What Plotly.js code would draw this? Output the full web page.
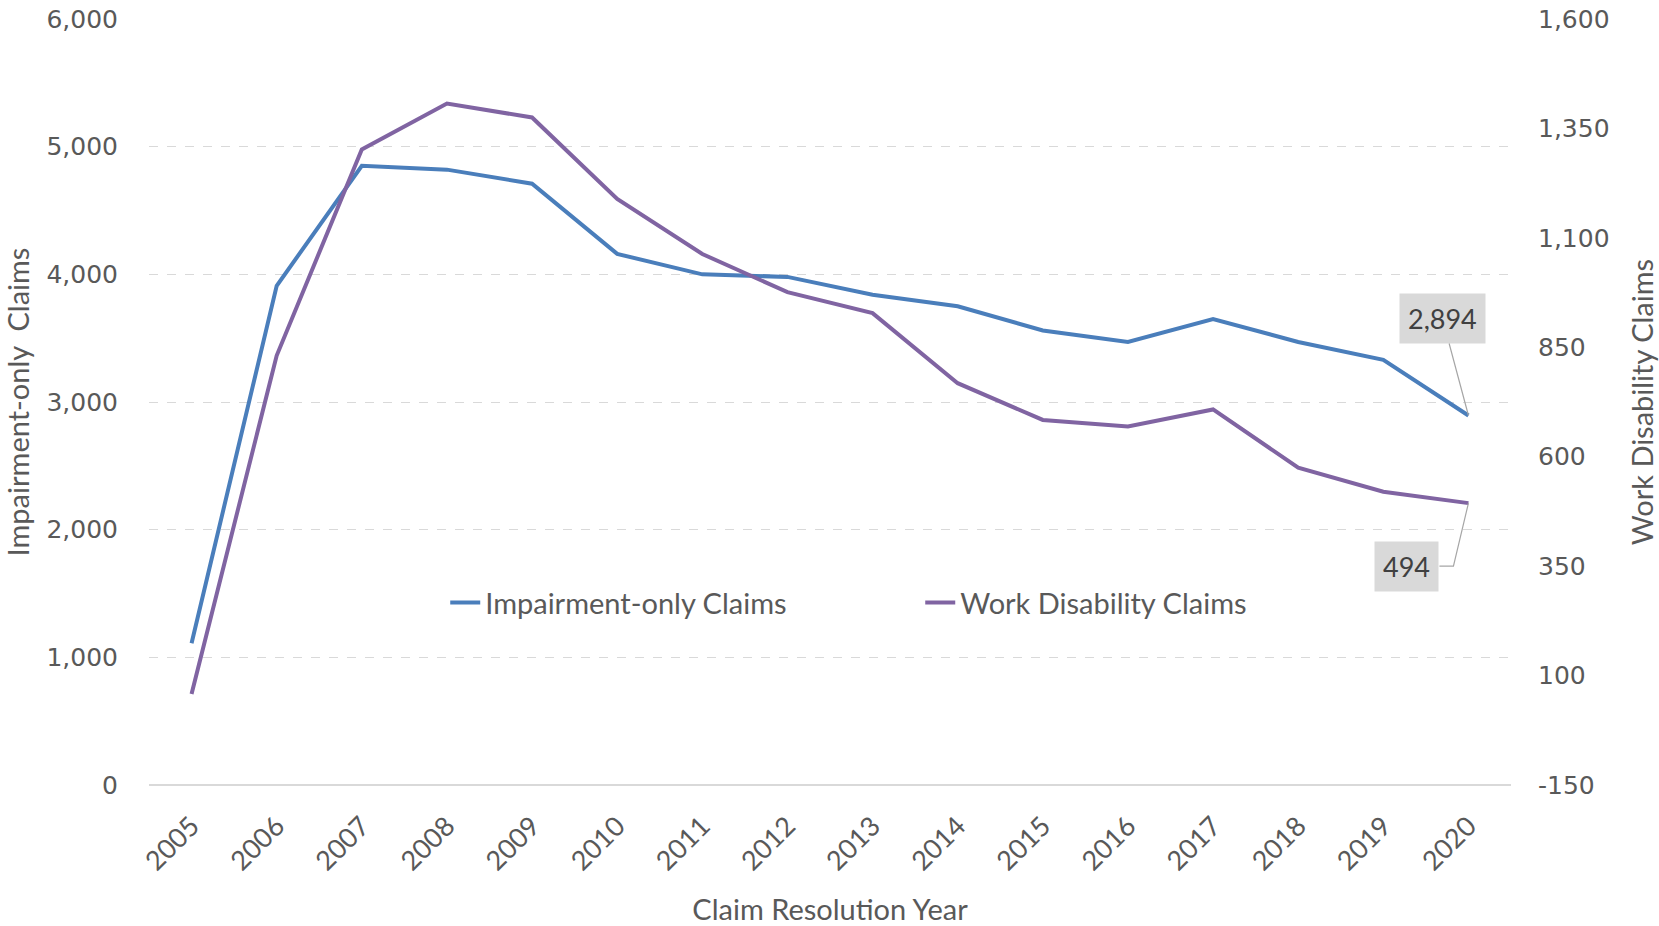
<!DOCTYPE html>
<html>
<head>
<meta charset="utf-8">
<script src="https://cdn.plot.ly/plotly-3.0.1.min.js"></script>
<style>
html,body{margin:0;padding:0;background:#fff;}
#chart{width:1659px;height:926px;}
</style>
</head>
<body>
<div id="chart"></div>
<script>
const years = ['2005','2006','2007','2008','2009','2010','2011','2012','2013','2014','2015','2016','2017','2018','2019','2020'];
const impairmentOnly = [1110, 3910, 4850, 4820, 4710, 4160, 4000, 3980, 3840, 3750, 3560, 3470, 3650, 3470, 3330, 2894];
const workDisability = [58, 831, 1302, 1407, 1375, 1189, 1063, 976, 928, 768, 684, 669, 708, 575, 520, 494];
const leftTicks = [0, 1000, 2000, 3000, 4000, 5000, 6000];
const rightTicks = [-150, 100, 350, 600, 850, 1100, 1350, 1600];

const gray = '#595959';
const calFont = 'Lato, "Open Sans", sans-serif';
const tickFont = '"DejaVu Sans", Verdana, sans-serif';
const last = years.length - 1;
const fmt = v => v.toLocaleString('en-US');

const traces = [
  {x: years, y: impairmentOnly, type: 'scatter', mode: 'lines', name: 'Impairment-only Claims',
   line: {color: '#4a7ebb', width: 4}, yaxis: 'y'},
  {x: years, y: workDisability, type: 'scatter', mode: 'lines', name: 'Work Disability Claims',
   line: {color: '#8064a2', width: 4}, yaxis: 'y2'}
];

const layout = {
  width: 1659, height: 926,
  margin: {l: 149, r: 148, t: 19, b: 141},
  paper_bgcolor: '#fff', plot_bgcolor: '#fff',
  showlegend: true,
  legend: {orientation: 'h', x: 0.2175, xanchor: 'left', y: 0.238, yanchor: 'middle',
           font: {family: calFont, size: 29, color: gray}, entrywidth: 430, bgcolor: 'rgba(0,0,0,0)'},
  xaxis: {type: 'category', range: [-0.5, years.length - 0.5], autorange: false,
          tickvals: years, ticktext: years, tickangle: -45,
          tickfont: {family: calFont, size: 27, color: gray}, showgrid: false,
          showline: false, ticks: '', ticklabelstandoff: 19,
          title: {text: 'Claim Resolution Year', font: {family: calFont, size: 29, color: gray}, standoff: 24}},
  yaxis: {range: [0, 6000], autorange: false, tickvals: leftTicks, ticktext: leftTicks.map(fmt),
          tickfont: {family: tickFont, size: 25, color: gray},
          showgrid: true, gridcolor: '#d9d9d9', griddash: 'dash', gridwidth: 1.2,
          zeroline: true, zerolinecolor: '#d9d9d9', zerolinewidth: 2, showline: false, ticks: '',
          ticklabelstandoff: 30,
          title: {text: 'Impairment-only  Claims', font: {family: calFont, size: 29, color: gray}, standoff: 10}},
  yaxis2: {range: [-150, 1600], autorange: false, tickvals: rightTicks, ticktext: rightTicks.map(fmt),
           overlaying: 'y', side: 'right',
           tickfont: {family: tickFont, size: 25, color: gray}, showgrid: false, zeroline: false,
           showline: false, ticks: '', ticklabelstandoff: 26,
           title: {text: 'Work Disability Claims', font: {family: calFont, size: 29, color: gray}, standoff: 26}},
  shapes: [
    {type: 'path', xref: 'x', yref: 'y2', xsizemode: 'pixel', ysizemode: 'pixel',
     xanchor: last, yanchor: workDisability[last],
     path: 'M0,0 L-15,-63 L-29,-63', line: {color: '#a6a6a6', width: 1.2}}
  ],
  annotations: [
    {x: last, y: impairmentOnly[last], xref: 'x', yref: 'y',
     text: fmt(impairmentOnly[last]), showarrow: true, arrowhead: 0, arrowwidth: 1.2,
     arrowcolor: '#a6a6a6', ax: -26, ay: -97, bgcolor: '#d9d9d9', borderpad: 8,
     font: {family: calFont, size: 27, color: '#404040'}},
    {x: last, y: workDisability[last], xref: 'x', yref: 'y2',
     text: fmt(workDisability[last]), showarrow: false, xanchor: 'right', yanchor: 'middle',
     xshift: -29, yshift: -63, bgcolor: '#d9d9d9', borderpad: 8,
     font: {family: calFont, size: 27, color: '#404040'}}
  ]
};

Plotly.newPlot('chart', traces, layout, {displayModeBar: false, responsive: false});
</script>
</body>
</html>
